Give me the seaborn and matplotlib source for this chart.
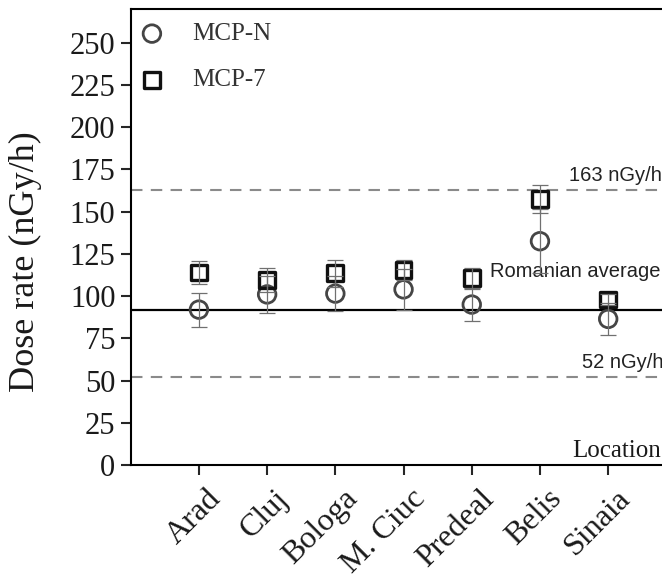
import numpy as np
import pandas as pd
import matplotlib
matplotlib.use("Agg")
import matplotlib.pyplot as plt
import matplotlib.transforms as mtransforms
import seaborn as sns

# ---- data ----
locations = ["Arad", "Cluj", "Bologa", "M. Ciuc", "Predeal", "Belis", "Sinaia"]
mcp_n = [92, 101, 101.5, 104, 95, 132.5, 86.5]
mcp_n_err = [10, 11, 10.5, 12, 10, 19, 9.5]
mcp_7 = [114, 109.5, 113.5, 115.5, 110.5, 157.5, 98]
mcp_7_err = [7, 7, 8, 6, 6, 8, 3]
ref_high = 163
ref_avg = 91.5
ref_low = 52
y_ticks = [0, 25, 50, 75, 100, 125, 150, 175, 200, 225, 250]

sns.set_style("ticks")
plt.rcParams["font.family"] = ["Liberation Serif", "DejaVu Serif"]

fig = plt.figure(figsize=(6.62, 5.75), dpi=100)
ax = fig.add_axes([130.7 / 662, (575 - 465) / 575, (676.4 - 130.7) / 662, (465 - 9) / 575])

circ_col = "#454545"
sq_col = "#111111"
err_col = "#707070"

xpos = np.arange(len(locations))

# reference lines
ax.axhline(ref_high, color="#8a8a8a", lw=1.5, dashes=(5.5, 4), zorder=1)
ax.axhline(ref_low, color="#8a8a8a", lw=1.5, dashes=(5.5, 4), zorder=1)
ax.axhline(ref_avg, color="#000000", lw=1.6, zorder=1)

sns.scatterplot(x=locations, y=mcp_n, marker="o", s=160, color=circ_col,
                facecolor="none", edgecolor=circ_col, linewidth=2.0,
                label="MCP-N", ax=ax, zorder=3)
sns.scatterplot(x=locations, y=mcp_7, marker="s", s=130, color=sq_col,
                facecolor="none", edgecolor=sq_col, linewidth=2.4,
                label="MCP-7", ax=ax, zorder=3)

ax.errorbar(xpos, mcp_n, yerr=mcp_n_err, fmt="none", ecolor=err_col,
            elinewidth=0.9, capsize=5.5, capthick=0.9, zorder=4)
ax.errorbar(xpos, mcp_7, yerr=mcp_7_err, fmt="none", ecolor=err_col,
            elinewidth=0.9, capsize=5.5, capthick=0.9, zorder=4)

ax.set_xlim(-1, 7)
ax.set_ylim(0, 270)
ax.set_yticks(y_ticks)
ax.set_xticks(xpos)
ax.tick_params(axis="both", direction="out", length=7, width=1.5, pad=4)
ax.set_xticklabels(locations, rotation=45, ha="right", fontsize=23, color="#1a1a1a")
offset = mtransforms.ScaledTranslation(28 / 100, -4 / 100, fig.dpi_scale_trans)
for lab in ax.get_xticklabels():
    lab.set_transform(lab.get_transform() + offset)

for lab in ax.get_yticklabels():
    lab.set_fontsize(22)
    lab.set_color("#1a1a1a")

for side in ["left", "bottom", "top"]:
    ax.spines[side].set_visible(True)
    ax.spines[side].set_linewidth(1.5)
    ax.spines[side].set_color("#000000")
ax.spines["right"].set_visible(False)

ax.set_xlabel("")
ax.set_ylabel("Dose rate (nGy/h)", fontsize=26, color="#1a1a1a")
ax.yaxis.set_label_coords(-0.1625, 0.445)

# annotations
ax.text(5.43, 167.9, "163 nGy/h", family="Liberation Sans", fontsize=14.5, color="#222222", va="baseline")
ax.text(4.27, 111.6, "Romanian average", family="Liberation Sans", fontsize=14.5, color="#222222", va="baseline")
ax.text(5.61, 57.3, "52 nGy/h", family="Liberation Sans", fontsize=14.5, color="#222222", va="baseline")
ax.text(5.48, 4.6, "Location", fontsize=18, color="#1a1a1a", va="baseline")

leg = ax.legend(loc="upper left", bbox_to_anchor=(0.016, 0.97), frameon=False,
                fontsize=18, labelcolor="#333333", handlelength=1.0,
                handletextpad=1.1, labelspacing=0.95, borderaxespad=0, borderpad=0,
                scatterpoints=1)

fig.savefig("out.png", dpi=100)
